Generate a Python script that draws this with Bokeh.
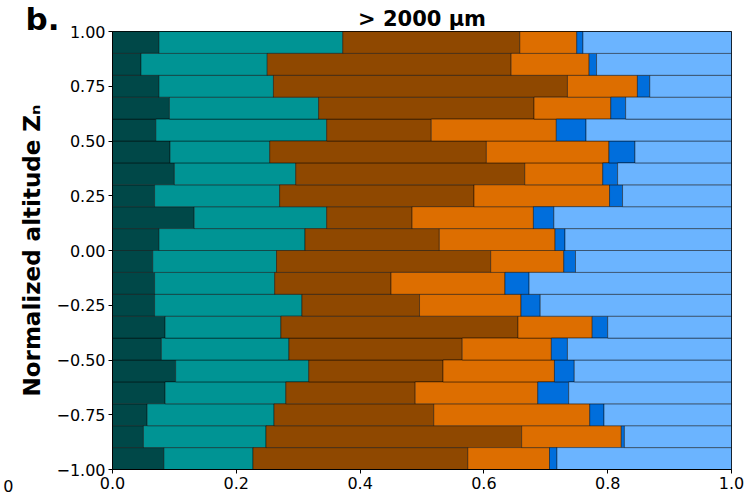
from bokeh.plotting import figure
from bokeh.models import ColumnDataSource, FixedTicker, LinearAxis
from bokeh.embed import file_html
from bokeh.resources import INLINE

# bin centres of normalized altitude (bottom to top)
altitude = [-0.95, -0.85, -0.75, -0.65, -0.55, -0.45, -0.35, -0.25, -0.15, -0.05,
            0.05, 0.15, 0.25, 0.35, 0.45, 0.55, 0.65, 0.75, 0.85, 0.95]

cat1 = [0.083, 0.050, 0.056, 0.085, 0.102, 0.079, 0.085, 0.068, 0.068, 0.065,
        0.075, 0.132, 0.068, 0.100, 0.093, 0.070, 0.092, 0.075, 0.046, 0.075]
cat2 = [0.144, 0.198, 0.205, 0.195, 0.215, 0.206, 0.187, 0.238, 0.194, 0.200,
        0.236, 0.214, 0.202, 0.196, 0.161, 0.276, 0.241, 0.185, 0.204, 0.297]
cat3 = [0.347, 0.413, 0.258, 0.209, 0.217, 0.280, 0.383, 0.190, 0.188, 0.346,
        0.217, 0.138, 0.314, 0.370, 0.350, 0.169, 0.348, 0.475, 0.394, 0.286]
cat4 = [0.132, 0.161, 0.252, 0.198, 0.180, 0.144, 0.120, 0.164, 0.184, 0.118,
        0.187, 0.196, 0.219, 0.126, 0.198, 0.202, 0.124, 0.113, 0.126, 0.092]
cat5 = [0.012, 0.005, 0.023, 0.050, 0.032, 0.026, 0.025, 0.031, 0.039, 0.019,
        0.016, 0.033, 0.021, 0.024, 0.042, 0.048, 0.024, 0.020, 0.012, 0.010]
cat6 = [0.282, 0.173, 0.206, 0.263, 0.254, 0.265, 0.200, 0.309, 0.327, 0.252,
        0.269, 0.287, 0.176, 0.184, 0.156, 0.235, 0.171, 0.132, 0.218, 0.240]

colors = ["#004848", "#009494", "#8F4800", "#DD6E00", "#006EDC", "#6BB4FF"]
names = ["c1", "c2", "c3", "c4", "c5", "c6"]

y_ticks = [-1.0, -0.75, -0.5, -0.25, 0.0, 0.25, 0.5, 0.75, 1.0]
y_tick_labels = ["\u22121.00", "\u22120.75", "\u22120.50", "\u22120.25", "0.00",
                 "0.25", "0.50", "0.75", "1.00"]
x_ticks = [0.0, 0.2, 0.4, 0.6, 0.8, 1.0]
x_tick_labels = ["0.0", "0.2", "0.4", "0.6", "0.8", "1.0"]

title_text = "> 2000 \u03bcm"
panel_tag = "b."
y_label = "Normalized altitude Z\u2099"
neighbour_tick = "0"

source = ColumnDataSource(dict(y=altitude, c1=cat1, c2=cat2, c3=cat3,
                               c4=cat4, c5=cat5, c6=cat6))

font = "DejaVu Sans"

p = figure(width=748, height=500, output_backend="svg", toolbar_location=None,
           x_range=(0, 1), y_range=(-1, 1),
           min_border_left=112, min_border_right=17,
           min_border_top=31, min_border_bottom=31)
p.hbar_stack(names, y="y", height=0.1, source=source, fill_color=colors,
             line_color="#000000", line_alpha=0.55, line_width=0.8)

p.grid.visible = False
p.outline_line_color = "#000000"
p.outline_line_width = 1
p.background_fill_color = "white"
p.border_fill_color = "white"

p.title.text = title_text
p.title.align = "center"
p.title.text_font = font
p.title.text_font_style = "bold"
p.title.text_font_size = "21px"
p.title.text_color = "#000000"
p.title.standoff = 1

p.xaxis.ticker = FixedTicker(ticks=x_ticks)
p.xaxis.major_label_overrides = {t: l for t, l in zip(x_ticks, x_tick_labels)}
p.yaxis.ticker = FixedTicker(ticks=y_ticks)
p.yaxis.major_label_overrides = {t: l for t, l in zip(y_ticks, y_tick_labels)}
for ax in (p.xaxis[0], p.yaxis[0]):
    ax.minor_tick_line_color = None
    ax.major_tick_in = 0
    ax.major_tick_out = 4
    ax.major_label_text_font = font
    ax.major_label_text_font_size = "16px"
    ax.major_label_text_color = "#000000"
    ax.axis_line_color = "#000000"
    ax.major_tick_line_color = "#000000"
    ax.major_label_standoff = 3

# outer left axis: carries the panel tag "b." (lifted by a blank second line)
# and the axis title
tag_pos = 0.962
ax2 = LinearAxis(ticker=FixedTicker(ticks=[tag_pos]),
                 major_label_overrides={tag_pos: panel_tag + "\n "},
                 axis_line_color=None, major_tick_line_color=None,
                 minor_tick_line_color=None, major_tick_in=0, major_tick_out=0,
                 major_label_standoff=-6,
                 major_label_text_font=font, major_label_text_font_style="bold",
                 major_label_text_font_size="31px", major_label_text_color="#000000",
                 axis_label=y_label, axis_label_text_font=font,
                 axis_label_text_font_style="bold", axis_label_text_font_size="23px",
                 axis_label_text_color="#000000", axis_label_standoff=-22)
p.add_layout(ax2, "left")

# outermost left axis: the clipped tick label of the neighbouring panel
# (pushed down by two blank lines above it)
nb_pos = -0.972
ax3 = LinearAxis(ticker=FixedTicker(ticks=[nb_pos]),
                 major_label_overrides={nb_pos: " \n \n" + neighbour_tick},
                 axis_line_color=None, major_tick_line_color=None,
                 minor_tick_line_color=None, major_tick_in=0, major_tick_out=0,
                 major_label_standoff=2,
                 major_label_text_font=font, major_label_text_font_size="16px",
                 major_label_text_color="#000000")
p.add_layout(ax3, "left")

open("out.html", "w").write(file_html(p, INLINE))
